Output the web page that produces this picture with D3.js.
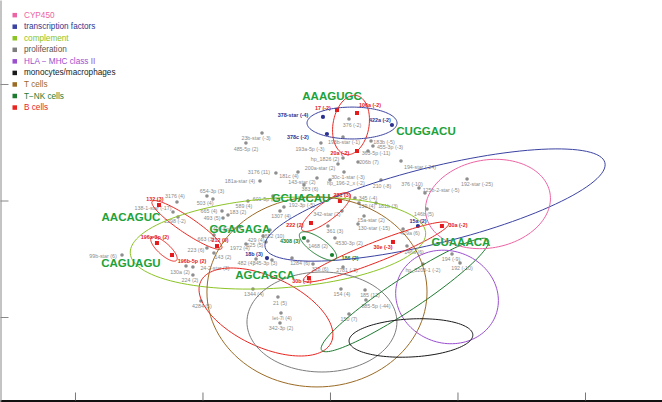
<!DOCTYPE html>
<html><head><meta charset="utf-8">
<script src="https://cdn.jsdelivr.net/npm/d3@7/dist/d3.min.js"></script>
<style>body{margin:0;background:#fff}svg{display:block}text{font-family:"Liberation Sans",Arial,Helvetica,sans-serif}</style>
</head><body><svg id="chart" width="662" height="402"></svg>
<script>
// ---------- DATA ----------
const categories = ["CYP450","transcription factors","complement","proliferation","HLA \u2212 MHC class II","monocytes/macrophages","T cells","T\u2212NK cells","B cells"];
const xTicks = [-2,-1,0,1,2];
const yTicks = [1,0,-1];

const pointLabels = [
 "23b-star (-3)","485-5p (2)","378-star (-4)","378c (-2)","17 (-2)","376 (-2)","106a (-2)","422a (-2)","193a-5p (-3)","193b-star (-1)",
 "183b (-5)","455-3p (-3)","363-5p (-11)","20a (-2)","hp_1826 (2)","206b (7)","194-star (-24)","200a-star (2)","3176 (11)","181c (4)",
 "30c-1-star (-3)","hp_196-2_x (-2)","143-star (2)","181a-star (4)","383 (6)","210 (-8)","376 (-10)","192-star (-25)","125b-2-star (-5)","654-3p (3)",
 "503 (4)","3176 (4)","132 (3)","138-1-star (-17)","2298 (-2)","665 (4)","183 (2)","493 (5)","409-5p (3)","589 (4)",
 "601-5p (3)","192-3p (-5)","342-star (2)","345 (-4)","139 (4)","181b (3)","146b (5)","15a-star (2)","130-star (-15)","361 (3)",
 "1882 (10)","429 (4)","625 (5)","1972 (4)","663 (3)","223 (6)","143 (2)","482 (4)","345-3p (3)","24-2-star (3)",
 "130a (2)","224 (2)","99b-star (6)","4308 (3)","186 (2)","1468 (2)","4530-3p (2)","30e (-3)","429a (6)","146a (6)",
 "194 (-9)","192 (-10)","hp_3203-1 (-2)","15a (2)","30a (-2)","18b (3)","30b (-2)","221 (3)","222 (2)","212 (9)",
 "196a-3p (2)","196b-5p (2)","1284 (6)","328 (6)","2781 (-3)","154 (4)","185 (12)","885-5p (-44)","150 (7)","1344 (4)",
 "21 (5)","let-7i (4)","342-3p (2)","4284 (5)","1307 (4)"];
const pointX = [
 -0.533,-0.659,-0.055,-0.024,0.055,0.149,0.212,0.486,-0.071,0.102,
 0.322,0.337,0.298,0.212,0.102,0.220,0.557,0.063,-0.424,-0.251,
 0.110,0.000,-0.102,-0.549,-0.204,0.400,0.698,1.075,0.745,-0.965,
 -0.918,-1.200,-1.341,-1.231,-1.192,-0.847,-0.800,-0.839,-0.706,-0.643,
 -0.447,-0.361,0.094,0.196,0.227,0.361,0.761,0.267,0.220,-0.016,
 -0.471,-0.525,-0.502,-0.659,-0.910,-0.965,-0.910,-0.580,-0.455,-1.075,
 -1.129,-1.075,-1.631,-0.204,0.016,-0.173,0.039,0.494,0.573,0.604,
 0.957,1.020,0.729,0.690,0.878,-0.494,-0.165,0.078,-0.149,-0.886,
 -1.357,-1.239,-0.298,-0.133,0.102,0.086,0.275,0.282,0.149,-0.604,
 -0.408,-0.384,-0.392,-1.012,-0.392];
const pointY = [
 0.579,0.494,0.717,0.571,0.777,0.700,0.751,0.648,0.494,0.545,
 0.511,0.468,0.425,0.425,0.365,0.330,0.339,0.313,0.236,0.245,
 0.245,0.176,0.193,0.167,0.133,0.176,0.107,0.185,0.064,0.039,
 0.013,-0.013,-0.039,-0.099,-0.142,-0.090,-0.124,-0.150,-0.227,-0.004,
 0.039,-0.056,-0.090,0.021,-0.021,-0.021,-0.073,-0.133,-0.202,-0.219,
 -0.253,-0.305,-0.356,-0.373,-0.296,-0.408,-0.451,-0.502,-0.511,-0.571,
 -0.562,-0.639,-0.468,-0.322,-0.468,-0.348,-0.322,-0.356,-0.245,-0.391,
 -0.459,-0.536,-0.545,-0.219,-0.219,-0.494,-0.665,-0.004,-0.193,-0.391,
 -0.365,-0.468,-0.494,-0.545,-0.571,-0.760,-0.768,-0.854,-0.974,-0.760,
 -0.828,-0.966,-1.052,-0.863,-0.090];
const labelX = [
 -0.580,-0.659,-0.290,-0.251,-0.055,0.173,0.314,0.392,-0.157,0.110,
 0.424,0.471,0.361,0.078,-0.039,0.306,0.706,-0.078,-0.557,-0.322,
 0.141,0.125,-0.220,-0.706,-0.157,0.408,0.643,1.153,0.871,-0.925,
 -0.980,-1.216,-1.373,-1.388,-1.216,-0.949,-0.722,-0.925,-0.824,-0.675,
 -0.510,-0.220,-0.024,0.298,0.290,0.455,0.737,0.322,0.345,0.039,
 -0.447,-0.580,-0.588,-0.706,-0.973,-1.051,-0.839,-0.659,-0.510,-0.902,
 -1.176,-1.098,-1.780,-0.314,0.157,-0.094,0.149,0.416,0.627,0.659,
 0.949,1.035,0.729,0.690,1.004,-0.596,-0.220,0.094,-0.275,-0.863,
 -1.373,-1.082,-0.235,-0.078,0.133,0.094,0.314,0.361,0.149,-0.596,
 -0.392,-0.376,-0.384,-1.004,-0.384];
const labelY = [
 0.536,0.442,0.734,0.545,0.794,0.648,0.820,0.691,0.442,0.502,
 0.502,0.459,0.408,0.408,0.356,0.330,0.288,0.279,0.245,0.210,
 0.202,0.150,0.159,0.167,0.099,0.124,0.142,0.142,0.090,0.082,
 -0.021,0.039,0.013,-0.064,-0.176,-0.090,-0.099,-0.150,-0.245,-0.047,
 0.013,-0.039,-0.116,0.021,-0.047,-0.047,-0.116,-0.167,-0.236,-0.262,
 -0.305,-0.339,-0.382,-0.408,-0.330,-0.425,-0.485,-0.536,-0.536,-0.579,
 -0.614,-0.682,-0.476,-0.348,-0.494,-0.391,-0.365,-0.399,-0.279,-0.442,
 -0.502,-0.579,-0.597,-0.176,-0.210,-0.459,-0.691,0.047,-0.210,-0.339,
 -0.313,-0.519,-0.536,-0.588,-0.597,-0.803,-0.811,-0.906,-1.017,-0.803,
 -0.880,-1.009,-1.094,-0.906,-0.133];
const pointGroup = [
 "o","o","b","b","r","o","r","b","o","o",
 "o","o","o","r","o","o","o","o","o","o",
 "o","o","o","o","o","o","o","o","o","o",
 "o","o","r","o","o","o","o","o","o","o",
 "o","o","o","o","o","o","o","o","o","o",
 "o","o","o","o","o","o","o","o","o","o",
 "o","o","o","n","n","o","o","r","o","o",
 "o","o","o","b","r","b","r","r","r","r",
 "r","r","o","o","o","o","o","o","o","o",
 "o","o","o","o","o"];

const motifNames = ["AAAGUGC","CUGGACU","AACAGUC","GCUACAU","GGAGAGA","CAGUAGU","AGCAGCA","GUAAACA"];
const motifX = [0.016,0.753,-1.561,-0.227,-0.706,-1.561,-0.510,1.027];
const motifY = [0.897,0.597,-0.142,0.021,-0.245,-0.536,-0.639,-0.356];

// ellipses (centre, semi-axes in x-units, rotation in degrees)
const ellipseCategory = ["transcription factors","B cells","transcription factors","B cells","B cells","B cells","B cells","B cells",
                         "complement","T cells","proliferation","T\u2212NK cells","T\u2212NK cells","HLA \u2212 MHC class II","monocytes/macrophages","CYP450"];
const ellipseCX = [0.173,0.165,0.824,-1.122,-1.302,-0.031,0.361,-0.502,-0.408,-0.102,-0.063,0.588,-0.094,0.918,0.635,1.239];
const ellipseCY = [0.665,0.648,-0.039,-0.210,-0.416,-0.099,-0.442,-0.957,-0.365,-0.785,-1.043,-0.811,-0.391,-0.828,-1.180,-0.030];
const ellipseA  = [0.353,0.235,1.373,0.329,0.133,0.235,0.612,0.565,1.161,0.863,0.588,0.784,0.173,0.408,0.486,0.494];
const ellipseB  = [0.125,0.141,0.298,0.063,0.047,0.071,0.078,0.275,0.353,0.745,0.392,0.125,0.063,0.361,0.149,0.345];
const ellipseAngle = [0,80,14,-34,-42,37,21.5,-25,4,0,0,33.5,-35,-20,3,10];

// ---------- STYLE ----------
const catColor = {
 "CYP450":"#ec64a4","transcription factors":"#3b43a2","complement":"#8cc425","proliferation":"#7d7d7d",
 "HLA \u2212 MHC class II":"#9a4fcf","monocytes/macrophages":"#1a1a1a","T cells":"#9b6a25",
 "T\u2212NK cells":"#1d7b30","B cells":"#e8251f"};
const legendText = {"proliferation":"#555555","transcription factors":"#2f3690"};
const ptColor = {o:"#8e8e8e", r:"#e41a1c", b:"#2b3190", n:"#16802c"};
const lbColor = {o:"#8a8a8a", r:"#e41a1c", b:"#2b3190", n:"#16802c"};

// ---------- CHART ----------
const W = 662, H = 402;
const svg = d3.select("#chart");
const x = d3.scaleLinear().domain([-2.588, 2.604]).range([0, W]);
const y = d3.scaleLinear().domain([-1.721, 1.721]).range([401, 0]);

// axes
const gx = svg.append("g").attr("transform","translate(0,400.5)")
  .call(d3.axisBottom(x).tickValues(xTicks).tickSize(-8).tickSizeOuter(0).tickFormat(""));
gx.select(".domain").attr("stroke","#111").attr("stroke-width",2);
gx.selectAll(".tick line").attr("stroke","#777");
const gy = svg.append("g").attr("transform","translate(0.5,0)")
  .call(d3.axisLeft(y).tickValues(yTicks).tickSize(-8).tickSizeOuter(0).tickFormat(""));
gy.select(".domain").attr("stroke","#888");
gy.selectAll(".tick line").attr("stroke","#888");

// points
const idx = d3.range(pointLabels.length);
const gp = svg.append("g");
idx.forEach(i => {
  const g = pointGroup[i];
  if (g === "r") {
    gp.append("rect").attr("x", x(pointX[i])-2).attr("y", y(pointY[i])-2)
      .attr("width",4).attr("height",4).attr("fill", ptColor[g]);
  } else {
    gp.append("circle").attr("cx", x(pointX[i])).attr("cy", y(pointY[i]))
      .attr("r", g === "o" ? 1.8 : 2.1).attr("fill", ptColor[g]);
  }
});
// point labels
svg.append("g").selectAll("text").data(idx).join("text")
  .attr("x", i => x(labelX[i])).attr("y", i => y(labelY[i]))
  .attr("text-anchor","middle").attr("dominant-baseline","central")
  .attr("font-size", i => pointGroup[i] === "o" ? 5.3 : 5.4)
  .attr("font-weight", i => pointGroup[i] === "o" ? "normal" : "bold")
  .attr("fill", i => lbColor[pointGroup[i]])
  .text(i => pointLabels[i]);

// ellipses
const kRatio = (x(1) - x(0)) / (y(0) - y(1));
const line = d3.line().x(d => x(d[0])).y(d => y(d[1])).curve(d3.curveLinearClosed);
function ellipsePts(i) {
  const th = ellipseAngle[i] * Math.PI / 180;
  return d3.range(0, 360, 3).map(deg => {
    const t = deg * Math.PI / 180;
    const u = ellipseA[i] * Math.cos(t), v = ellipseB[i] * Math.sin(t);
    return [ellipseCX[i] + u*Math.cos(th) - v*Math.sin(th),
            ellipseCY[i] + (u*Math.sin(th) + v*Math.cos(th)) * kRatio];
  });
}
svg.append("g").selectAll("path").data(d3.range(ellipseCX.length)).join("path")
  .attr("d", i => line(ellipsePts(i)))
  .attr("fill","none").attr("stroke", i => catColor[ellipseCategory[i]]).attr("stroke-width",1);

// motif labels
svg.append("g").selectAll("text").data(motifNames).join("text")
  .attr("x", (d,i) => x(motifX[i])).attr("y", (d,i) => y(motifY[i]))
  .attr("text-anchor","middle").attr("dominant-baseline","central")
  .attr("font-size",11.5).attr("font-weight","bold").attr("fill","#20a23b")
  .text(d => d);

// legend
const lg = svg.append("g");
categories.forEach((c, i) => {
  const yy = 15.2 + i * 11.55;
  lg.append("rect").attr("x",12.5).attr("y",yy-2.3).attr("width",4.5).attr("height",4.5).attr("fill",catColor[c]);
  lg.append("text").attr("x",24).attr("y",yy).attr("dominant-baseline","central")
    .attr("font-size",8.2).attr("fill", legendText[c] || catColor[c]).text(c);
});
</script></body></html>
